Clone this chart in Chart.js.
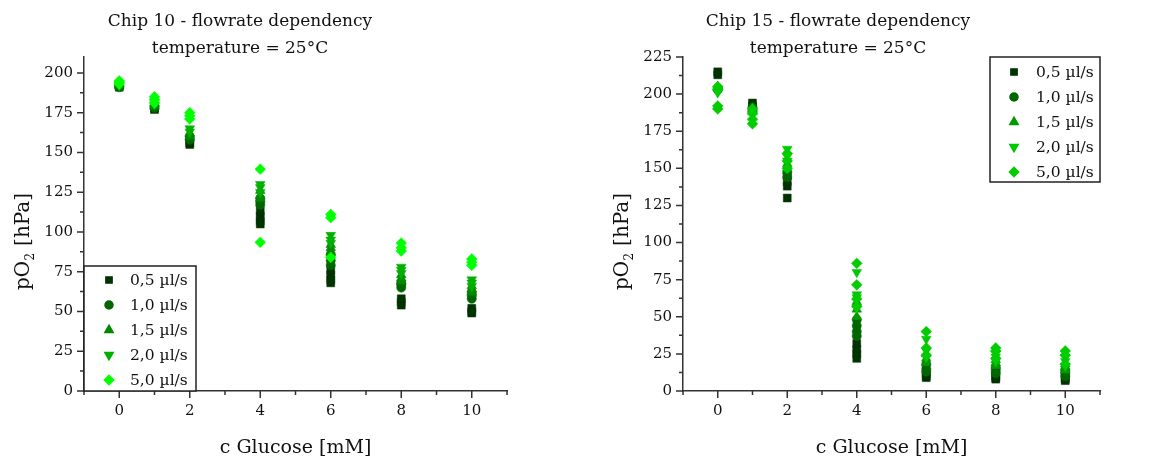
<!DOCTYPE html>
<html>
<head>
<meta charset="utf-8">
<script src="https://cdn.jsdelivr.net/npm/chart.js@4.4.0/dist/chart.umd.min.js"></script>
<style>
  html, body { margin: 0; padding: 0; background: #ffffff; }
  #wrap { position: relative; width: 1149px; height: 461px; overflow: hidden; }
  canvas { position: absolute; top: 0; }
</style>
</head>
<body>
<div id="wrap">
  <canvas id="chip10" width="575" height="461" style="left:0px"></canvas>
  <canvas id="chip15" width="574" height="461" style="left:575px"></canvas>
</div>
<script>
// Glucose levels (mM) and flow-rate series names
const glucose = [0, 1, 2, 4, 6, 8, 10];
const flowLabels = ['0,5 µl/s', '1,0 µl/s', '1,5 µl/s', '2,0 µl/s', '5,0 µl/s'];
const xTickValues = [0, 2, 4, 6, 8, 10];
const yTicksChip10 = [0, 25, 50, 75, 100, 125, 150, 175, 200];
const yTicksChip15 = [0, 25, 50, 75, 100, 125, 150, 175, 200, 225];

// Chip 10: replicate pO2 readings [hPa] at each glucose level
const chip10_q05 = [[191, 192, 193], [177, 178], [155, 156, 158], [105, 107, 110, 113], [68, 70, 73, 76], [54, 56, 58], [49, 50, 52]];
const chip10_q10 = [[191, 192], [178, 179], [158, 160], [117, 119, 121], [79, 82, 86], [65, 67, 68], [58, 60, 62]];
const chip10_q15 = [[192, 193], [179, 181], [160, 162], [121, 123, 126], [87, 90, 92], [69, 71, 73], [62, 64, 66]];
const chip10_q20 = [[192, 193], [180, 182], [163, 165], [125, 128, 130], [93, 95, 98], [74, 76, 78], [66, 68, 70]];
const chip10_q50 = [[193, 194, 195], [181, 183, 185], [171, 173, 175], [93.5, 139.5], [84, 109, 111], [88, 90, 93], [79, 81, 83]];

// Chip 15: replicate pO2 readings [hPa] at each glucose level
const chip15_q05 = [[213, 215], [192, 194], [130, 138, 141, 145], [22, 25, 28, 32], [9, 10, 12], [8, 9, 10], [7, 8, 9]];
const chip15_q10 = [[203, 204], [189, 191], [144, 147], [37, 40, 44, 48], [13, 15, 18], [12, 14, 16], [10, 12, 14]];
const chip15_q15 = [[204, 205], [188, 190], [150, 153], [50, 55, 60], [19, 22, 25], [17, 19, 21], [14, 16, 18]];
const chip15_q20 = [[201, 203], [186, 189], [155, 158, 163], [56, 63, 65, 80], [23, 27, 35], [20, 23, 25], [17, 20, 23]];
const chip15_q50 = [[190, 192, 203, 205], [180, 183, 187, 190], [150, 155, 160], [57, 62, 71.5, 86], [24, 29, 40], [22, 27, 29], [18, 24, 27]];

const SERIF = '"DejaVu Serif", "Liberation Serif", serif';
const AXIS_COLOR = '#333333';
const TEXT_COLOR = '#111111';

// Marker shapes: square, circle, triangle up, triangle down, diamond
const markers = [
  { pointStyle: 'rect', radius: 5.6, legendRadius: 4.4, rotation: 0 },
  { pointStyle: 'circle', radius: 4.6, legendRadius: 4.0, rotation: 0 },
  { pointStyle: 'triangle', radius: 5.6, legendRadius: 4.8, rotation: 0 },
  { pointStyle: 'triangle', radius: 5.6, legendRadius: 4.8, rotation: 180 },
  { pointStyle: 'rectRot', radius: 5.4, legendRadius: 4.6, rotation: 0 }
];

function toPoints(rows) {
  const pts = [];
  rows.forEach((vals, i) => vals.forEach(v => pts.push({ x: glucose[i], y: v })));
  return pts;
}

// Ticks, titles, y-axis label with subscript and the boxed legend
const decorPlugin = {
  id: 'decor',
  afterDraw(chart, args, o) {
    const ctx = chart.ctx;
    const xs = chart.scales.x, ys = chart.scales.y, a = chart.chartArea;
    ctx.save();

    // tick marks (major + minor), pointing outwards
    ctx.strokeStyle = AXIS_COLOR;
    ctx.lineWidth = 1.5;
    ctx.beginPath();
    for (let v = xs.min; v <= xs.max + 1e-9; v += 1) {
      const px = xs.getPixelForValue(v);
      const major = xTickValues.includes(v);
      ctx.moveTo(px, a.bottom);
      ctx.lineTo(px, a.bottom + (major ? 7 : 4));
    }
    for (let v = 0; v <= ys.max + 1e-9; v += 12.5) {
      const py = ys.getPixelForValue(v);
      const major = v % 25 === 0;
      ctx.moveTo(a.left, py);
      ctx.lineTo(a.left - (major ? 7 : 4), py);
    }
    ctx.stroke();

    // two-line title
    ctx.fillStyle = TEXT_COLOR;
    ctx.textAlign = 'center';
    ctx.textBaseline = 'alphabetic';
    ctx.font = '17px ' + SERIF;
    o.title.forEach((line, i) => ctx.fillText(line, o.titleX, o.titleBaseline + i * o.titleGap));

    // rotated y-axis title: pO2 [hPa]
    ctx.save();
    ctx.translate(o.yTitleX, o.yTitleY);
    ctx.rotate(-Math.PI / 2);
    const big = '20px ' + SERIF, small = '12px ' + SERIF;
    ctx.font = big; const w1 = ctx.measureText('pO').width; const w3 = ctx.measureText(' [hPa]').width;
    ctx.font = small; const w2 = ctx.measureText('2').width;
    let x0 = -(w1 + w2 + w3) / 2;
    ctx.textAlign = 'left';
    ctx.font = big; ctx.fillText('pO', x0, 0);
    ctx.font = small; ctx.fillText('2', x0 + w1 + 0.5, 5);
    ctx.font = big; ctx.fillText(' [hPa]', x0 + w1 + w2 + 1, 0);
    ctx.restore();

    // legend box
    const b = o.legendBox;
    ctx.fillStyle = '#ffffff';
    ctx.fillRect(b.x, b.y, b.w, b.h);
    ctx.strokeStyle = '#222222';
    ctx.lineWidth = 1.5;
    ctx.strokeRect(b.x, b.y, b.w, b.h);
    ctx.font = '15.5px ' + SERIF;
    ctx.textAlign = 'left';
    ctx.textBaseline = 'middle';
    chart.data.datasets.forEach((ds, i) => {
      const cy = b.y + b.firstRow + i * b.rowGap;
      const m = markers[i];
      ctx.fillStyle = ds.backgroundColor;
      ctx.strokeStyle = ds.backgroundColor;
      Chart.helpers.drawPoint(ctx, { pointStyle: m.pointStyle, radius: m.legendRadius, rotation: m.rotation, borderWidth: 0.5 }, b.x + b.markerX, cy);
      ctx.fillStyle = TEXT_COLOR;
      ctx.fillText(ds.label, b.x + b.textX, cy + 1);
    });
    ctx.restore();
  }
};

function makeChart(id, seriesRows, colors, yMax, yTicks, o) {
  const datasets = seriesRows.map((rows, i) => ({
    label: flowLabels[i],
    data: toPoints(rows),
    backgroundColor: colors[i],
    borderColor: colors[i],
    borderWidth: 0.5,
    pointStyle: markers[i].pointStyle,
    pointRadius: markers[i].radius,
    rotation: markers[i].rotation,
    showLine: false,
    order: seriesRows.length - 1 - i
  }));
  return new Chart(document.getElementById(id), {
    type: 'scatter',
    data: { datasets },
    plugins: [decorPlugin],
    options: {
      responsive: false,
      animation: false,
      devicePixelRatio: 1,
      layout: { padding: { top: o.padTop, right: o.padRight, left: 0, bottom: 0 } },
      plugins: {
        legend: { display: false },
        title: { display: false },
        tooltip: { enabled: false },
        decor: o
      },
      scales: {
        x: {
          type: 'linear',
          min: -1, max: 11,
          grid: { display: false, drawTicks: false },
          border: { display: true, color: AXIS_COLOR, width: 1.5 },
          afterBuildTicks: s => { s.ticks = xTickValues.map(v => ({ value: v })); },
          afterFit: s => { s.height = o.xAxisHeight; },
          ticks: { font: { family: SERIF, size: 15 }, color: TEXT_COLOR, padding: 11, maxRotation: 0 },
          title: { display: true, text: 'c Glucose [mM]', font: { family: SERIF, size: 19 }, color: TEXT_COLOR, padding: { top: 0, bottom: 2 } }
        },
        y: {
          type: 'linear',
          min: 0, max: yMax,
          grid: { display: false, drawTicks: false },
          border: { display: true, color: AXIS_COLOR, width: 1.5 },
          afterBuildTicks: s => { s.ticks = yTicks.map(v => ({ value: v })); },
          afterFit: s => { s.width = o.yAxisWidth; },
          ticks: { font: { family: SERIF, size: 15 }, color: TEXT_COLOR, padding: 11 }
        }
      }
    }
  });
}

makeChart('chip10',
  [chip10_q05, chip10_q10, chip10_q15, chip10_q20, chip10_q50],
  ['#003300', '#006600', '#008a00', '#00b000', '#00ff00'],
  210, yTicksChip10,
  {
    padTop: 57, padRight: 68, yAxisWidth: 84, xAxisHeight: 70,
    title: ['Chip 10 - flowrate dependency', 'temperature = 25°C'],
    titleX: 240, titleBaseline: 26, titleGap: 27,
    yTitleX: 29, yTitleY: 242,
    legendBox: { x: 84, y: 266, w: 112, h: 125, firstRow: 14, rowGap: 25, markerX: 25, textX: 46 }
  });

makeChart('chip15',
  [chip15_q05, chip15_q10, chip15_q15, chip15_q20, chip15_q50],
  ['#003300', '#006600', '#009900', '#00c800', '#00cc00'],
  225, yTicksChip15,
  {
    padTop: 57, padRight: 49, yAxisWidth: 108, xAxisHeight: 70,
    title: ['Chip 15 - flowrate dependency', 'temperature = 25°C'],
    titleX: 263, titleBaseline: 26, titleGap: 27,
    yTitleX: 53, yTitleY: 242,
    legendBox: { x: 415, y: 57, w: 110, h: 125, firstRow: 15, rowGap: 25, markerX: 24, textX: 46 }
  });
</script>
</body>
</html>
